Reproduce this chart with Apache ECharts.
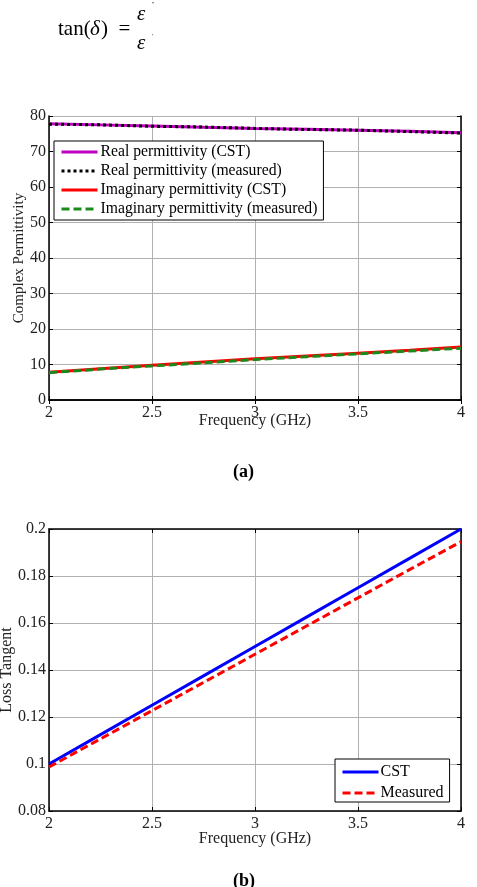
<!DOCTYPE html>
<html lang="en">
<head>
    <meta charset="utf-8">
    <title>Permittivity and loss tangent</title>
    <script src="https://cdn.jsdelivr.net/npm/echarts@6/dist/echarts.min.js"></script>
</head>
<body style="margin:0;background:#fff;">
    <div id="main" style="width:477px;height:887px;"></div>

    <script type="text/javascript">
    // frequency points (GHz)
    var freq = [2, 2.25, 2.5, 2.75, 3, 3.25, 3.5, 3.75, 4];

    // (a) complex permittivity
    var realCst  = [77.8, 77.5, 77.2, 76.8, 76.5, 76.3, 76.0, 75.7, 75.3];
    var realMeas = [77.7, 77.5, 77.1, 76.9, 76.5, 76.2, 76.0, 75.6, 75.2];
    var imagCst  = [7.8, 8.8, 9.8, 10.7, 11.6, 12.4, 13.2, 14.0, 14.9];
    var imagMeas = [7.7, 8.7, 9.6, 10.5, 11.4, 12.2, 13.0, 13.8, 14.6];

    // (b) loss tangent
    var tanCst  = [0.1, 0.1125, 0.125, 0.1375, 0.15, 0.1625, 0.175, 0.1875, 0.2];
    var tanMeas = [0.0987, 0.1107, 0.1227, 0.1347, 0.1467, 0.1587, 0.1707, 0.1827, 0.1946];

    function pairs(ys) {
        return freq.map(function (f, i) { return [f, ys[i]]; });
    }

    var serif = 'Liberation Serif';
    var myChart = echarts.init(document.getElementById('main'));

    function xAx(gi, gap) {
        return {
            type: 'value', gridIndex: gi, min: 2, max: 4, interval: 0.5,
            name: 'Frequency (GHz)', nameLocation: 'middle', nameGap: gap, nameMoveOverlap: false,
            nameTextStyle: { fontFamily: serif, fontSize: 16, color: '#222' },
            axisLine: { lineStyle: { color: '#000', width: 1.5 } },
            axisTick: { inside: true, length: 4, lineStyle: { color: '#000' } },
            axisLabel: { fontFamily: serif, fontSize: 16, color: '#222', margin: 5 },
            splitLine: { show: true, lineStyle: { color: '#b0b0b0', width: 1 } }
        };
    }
    function xTop(gi) {
        return {
            type: 'value', gridIndex: gi, min: 2, max: 4, interval: 0.5, position: 'top',
            axisLine: { lineStyle: { color: '#000', width: 1.5 } },
            axisTick: { inside: true, length: 4, lineStyle: { color: '#000' } },
            axisLabel: { show: false }, splitLine: { show: false }
        };
    }
    function yRight(gi, mn, mx, step) {
        return {
            type: 'value', gridIndex: gi, min: mn, max: mx, interval: step, position: 'right',
            axisLine: { show: true, lineStyle: { color: '#000', width: 1.5 } },
            axisTick: { show: true, inside: true, length: 4, lineStyle: { color: '#000' } },
            axisLabel: { show: false }, splitLine: { show: false }
        };
    }

    myChart.setOption({
        animation: false,
        grid: [
            { left: 49, top: 116, width: 412, height: 284, containLabel: false, outerBoundsMode: 'none' },
            { left: 49, top: 529, width: 412, height: 282, containLabel: false, outerBoundsMode: 'none' }
        ],
        graphic: [
            { type: 'text', left: 58, top: 19, style: { text: 'tan(', font: '21px "Liberation Serif"', fill: '#000' } },
            { type: 'text', left: 90, top: 19, style: { text: 'δ', font: 'italic 21px "Liberation Serif"', fill: '#000' } },
            { type: 'text', left: 101, top: 19, style: { text: ')  =', font: '21px "Liberation Serif"', fill: '#000' } },
            { type: 'text', left: 137, top: 4, style: { text: 'ε', font: 'italic 21px "Liberation Serif"', fill: '#000' } },
            { type: 'text', left: 152, top: 1, style: { text: '"', font: '6px "Liberation Serif"', fill: '#000' } },
            { type: 'text', left: 137, top: 33, style: { text: 'ε', font: 'italic 21px "Liberation Serif"', fill: '#000' } },
            { type: 'text', left: 152, top: 33, style: { text: "'", font: '6px "Liberation Serif"', fill: '#000' } },
            { type: 'text', left: 233, top: 463, style: { text: '(a)', font: 'bold 18px "Liberation Serif"', fill: '#000' } },
            { type: 'text', left: 233, top: 872, style: { text: '(b)', font: 'bold 18px "Liberation Serif"', fill: '#000' } }
        ],
        legend: [
            {
                left: 54, top: 141, orient: 'vertical', padding: [3, 6, 3, 6],
                itemWidth: 36, itemHeight: 14, itemGap: 3,
                borderColor: '#000', borderWidth: 1, backgroundColor: '#fff',
                itemStyle: { opacity: 0 },
                lineStyle: { width: 3 },
                textStyle: { fontFamily: serif, fontSize: 15.7, color: '#000', padding: [0, 0, 0, -2] },
                data: ['Real permittivity (CST)', 'Real permittivity (measured)',
                       'Imaginary permittivity (CST)', 'Imaginary permittivity (measured)']
            },
            {
                left: 335, top: 759, orient: 'vertical', padding: [5, 6, 1, 6],
                itemWidth: 36, itemHeight: 14, itemGap: 5,
                borderColor: '#000', borderWidth: 1, backgroundColor: '#fff',
                itemStyle: { opacity: 0 },
                lineStyle: { width: 3 },
                textStyle: { fontFamily: serif, fontSize: 16, color: '#000', padding: [0, 0, 0, -3] },
                data: ['CST', 'Measured']
            }
        ],
        xAxis: [xAx(0, 13), xAx(1, 20), xTop(0), xTop(1)],
        yAxis: [
            {
                type: 'value', gridIndex: 0, min: 0, max: 80, interval: 10,
                name: 'Complex Permittivity', nameLocation: 'middle', nameGap: 22, nameMoveOverlap: false,
                nameTextStyle: { fontFamily: serif, fontSize: 15, color: '#222' },
                axisLine: { lineStyle: { color: '#000', width: 1.5 } },
                axisTick: { inside: true, length: 4, lineStyle: { color: '#000' } },
                axisLabel: { fontFamily: serif, fontSize: 16, color: '#222', margin: 3 },
                splitLine: { show: true, lineStyle: { color: '#b0b0b0', width: 1 } }
            },
            {
                type: 'value', gridIndex: 1, min: 0.08, max: 0.2, interval: 0.02,
                name: 'Loss Tangent', nameLocation: 'middle', nameGap: 34, nameMoveOverlap: false,
                nameTextStyle: { fontFamily: serif, fontSize: 16, color: '#222' },
                axisLine: { lineStyle: { color: '#000', width: 1.5 } },
                axisTick: { inside: true, length: 4, lineStyle: { color: '#000' } },
                axisLabel: { fontFamily: serif, fontSize: 16, color: '#222', margin: 3 },
                splitLine: { show: true, lineStyle: { color: '#b0b0b0', width: 1 } }
            },
            yRight(0, 0, 80, 10),
            yRight(1, 0.08, 0.2, 0.02)
        ],
        series: [
            {
                name: 'Real permittivity (CST)', type: 'line', xAxisIndex: 0, yAxisIndex: 0,
                symbol: 'none', data: pairs(realCst), color: '#c000c0',
                lineStyle: { color: '#c000c0', width: 3 }
            },
            {
                name: 'Real permittivity (measured)', type: 'line', xAxisIndex: 0, yAxisIndex: 0,
                symbol: 'none', data: pairs(realMeas), color: '#000',
                lineStyle: { color: '#000', width: 3, type: [3, 3] }
            },
            {
                name: 'Imaginary permittivity (CST)', type: 'line', xAxisIndex: 0, yAxisIndex: 0,
                symbol: 'none', data: pairs(imagCst), color: '#ff0000',
                lineStyle: { color: '#ff0000', width: 3 }
            },
            {
                name: 'Imaginary permittivity (measured)', type: 'line', xAxisIndex: 0, yAxisIndex: 0,
                symbol: 'none', data: pairs(imagMeas), color: '#1a8a1a',
                lineStyle: { color: '#1a8a1a', width: 3, type: [8, 4] }
            },
            {
                name: 'CST', type: 'line', xAxisIndex: 1, yAxisIndex: 1,
                symbol: 'none', data: pairs(tanCst), color: '#0000ff',
                lineStyle: { color: '#0000ff', width: 3 }
            },
            {
                name: 'Measured', type: 'line', xAxisIndex: 1, yAxisIndex: 1,
                symbol: 'none', data: pairs(tanMeas), color: '#ff0000',
                lineStyle: { color: '#ff0000', width: 3, type: [8, 4] }
            }
        ]
    });
    </script>
</body>
</html>
